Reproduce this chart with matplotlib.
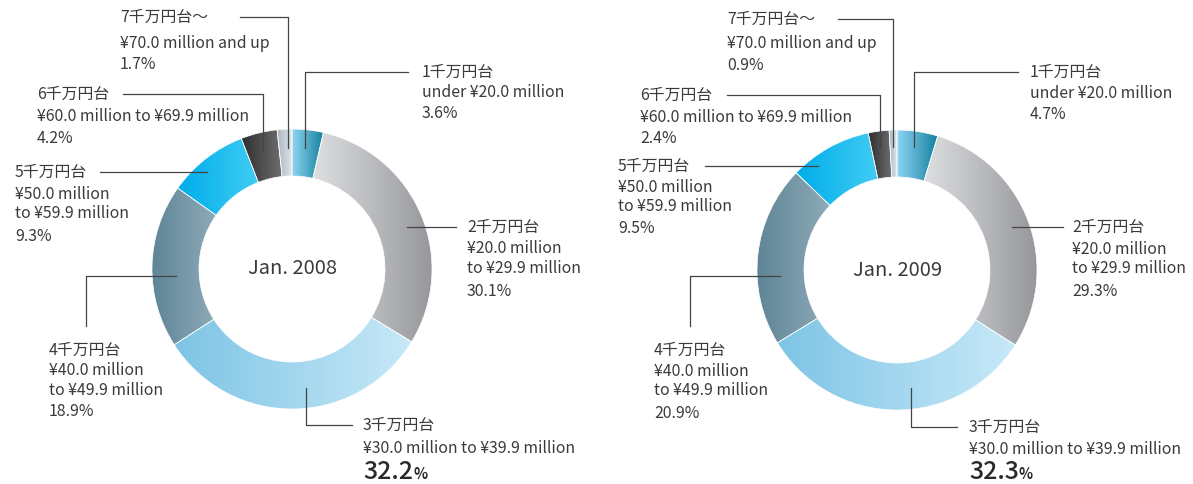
import numpy as np
import matplotlib
matplotlib.use("Agg")
import matplotlib.pyplot as plt
from matplotlib.colors import LinearSegmentedColormap

plt.rcParams['font.family'] = ['Noto Sans CJK JP', 'DejaVu Sans']

# data
jp_names = ["1千万円台", "2千万円台", "3千万円台", "4千万円台", "5千万円台", "6千万円台", "7千万円台～"]
ranges = [["under ¥20.0 million"],
          ["¥20.0 million", "to ¥29.9 million"],
          ["¥30.0 million to ¥39.9 million"],
          ["¥40.0 million", "to ¥49.9 million"],
          ["¥50.0 million", "to ¥59.9 million"],
          ["¥60.0 million to ¥69.9 million"],
          ["¥70.0 million and up"]]
titles = ["Jan. 2008", "Jan. 2009"]
share_2008 = [3.6, 30.1, 32.2, 18.9, 9.3, 4.2, 1.7]
share_2009 = [4.7, 29.3, 32.3, 20.9, 9.5, 2.4, 0.9]

# gradient colours per segment (left -> right)
grads = [("#8fd5f3", "#14809f"),
         ("#dedfe1", "#96979b"),
         ("#7dc4e5", "#c8e9f8"),
         ("#5f8597", "#8eabb8"),
         ("#00adea", "#40ccf4"),
         ("#2e2e2f", "#6e6e70"),
         ("#a7b6bf", "#e0e5e8")]

W, H = 1193, 484
TXT = "#3a3a3a"
FS = 11.4

# layout in pixel coords (y from top)
centers = [(292, 269), (897, 270)]
layout = [
    [  # 2008
        (422, [72, 92, 113], [(305, 148), (305, 72), (408, 72)]),
        (467, [227, 248, 268, 291], [(407, 227), (456, 227)]),
        (363, [425, 448], [(306, 388), (306, 425), (352, 425)]),
        (49, [350, 370, 390, 411], [(176, 276), (86, 276), (86, 326)]),
        (15, [172, 194, 213, 236], [(100, 172), (207, 172)]),
        (37, [94, 116, 138], [(123, 94), (263, 94), (263, 151)]),
        (120, [17, 43, 64], [(240, 17), (288, 17), (288, 148)]),
    ],
    [  # 2009
        (1030, [72, 93, 114], [(914, 147), (914, 72), (1018, 72)]),
        (1072, [227, 249, 268, 291], [(1012, 227), (1063, 227)]),
        (969, [427, 449], [(911, 388), (911, 427), (957, 427)]),
        (654, [350, 371, 390, 413], [(780, 276), (690, 276), (690, 326)]),
        (618, [166, 187, 206, 228], [(705, 166), (818, 166)]),
        (640, [95, 117, 138], [(727, 95), (880, 95), (880, 147)]),
        (727, [19, 43, 65], [(838, 19), (893, 19), (893, 147)]),
    ],
]


def Y(y):
    return H - y


fig = plt.figure(figsize=(W / 100, H / 100), dpi=100)
ax = fig.add_axes([0, 0, 1, 1])
fig.canvas.draw()
renderer = fig.canvas.get_renderer()

for k, vals in enumerate([share_2008, share_2009]):
    cx, cy = centers[k]
    wedges, _ = ax.pie(vals, radius=140, center=(cx, Y(cy)), startangle=90,
                       counterclock=False, frame=True,
                       wedgeprops=dict(width=47, edgecolor="white", linewidth=0.5))
    grad = np.linspace(0, 1, 256).reshape(1, -1)
    for i, w in enumerate(wedges):
        w.set_facecolor("none")
        w.set_zorder(3)
        bb = w.get_path().get_extents()
        cmap = LinearSegmentedColormap.from_list("g%d" % i, grads[i])
        im = ax.imshow(grad, extent=[bb.x0, bb.x1, bb.y0, bb.y1], cmap=cmap,
                       aspect="auto", interpolation="bicubic", zorder=2)
        im.set_clip_path(w)

# fix the data space to pixel space before measuring text
ax.set_xlim(0, W)
ax.set_ylim(0, H)
ax.set_aspect("auto")
ax.axis("off")

for k, vals in enumerate([share_2008, share_2009]):
    cx, cy = centers[k]
    ax.text(cx + 1, Y(cy), titles[k], fontsize=14.5, color=TXT, ha="center", va="center")

    for i, (tx, ys, pts) in enumerate(layout[k]):
        xs = [p[0] for p in pts]
        yy = [Y(p[1]) for p in pts]
        ax.plot(xs, yy, color="#444444", lw=0.9, zorder=4)
        lines = [jp_names[i]] + ranges[i]
        for s, y in zip(lines, ys):
            ax.text(tx, Y(y + 5), s, fontsize=FS, color=TXT, ha="left", va="baseline")
        pct = "%.1f" % vals[i]
        if i == 2:
            t = ax.text(tx, Y(479), pct, fontsize=18, color="#2a2a2a", fontweight="medium",
                        ha="left", va="baseline")
            ext = t.get_window_extent(renderer=renderer)
            ax.text(ext.x1, Y(479), "%", fontsize=10.5, color="#2a2a2a", fontweight="bold",
                    ha="left", va="baseline")
        else:
            ax.text(tx, Y(ys[len(lines)] + 5), pct + "%", fontsize=FS, color=TXT,
                    ha="left", va="baseline")

fig.savefig("out.png", dpi=100)
